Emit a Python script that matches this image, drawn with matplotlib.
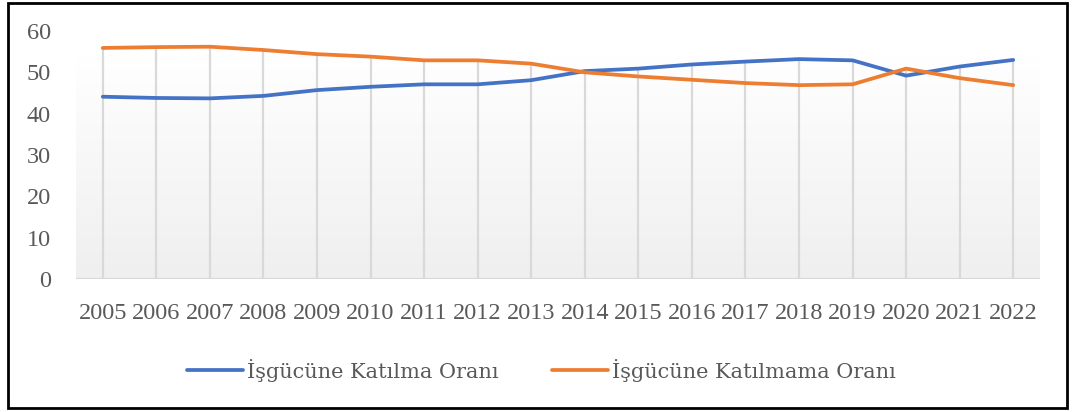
import numpy as np
import matplotlib
matplotlib.use("Agg")
import matplotlib.pyplot as plt
from matplotlib.patches import Rectangle
from matplotlib.colors import LinearSegmentedColormap

years = [str(y) for y in range(2005, 2023)]
katilma = [44.1, 43.8, 43.7, 44.3, 45.7, 46.5, 47.1, 47.1, 48.1, 50.3,
           50.9, 51.9, 52.6, 53.2, 52.9, 49.2, 51.4, 53.0]
katilmama = [55.9, 56.1, 56.2, 55.4, 54.4, 53.8, 52.9, 52.9, 52.1, 50.0,
             49.0, 48.2, 47.4, 46.9, 47.1, 50.9, 48.6, 46.9]
labels = ["İşgücüne Katılma Oranı", "İşgücüne Katılmama Oranı"]

plt.rcParams['font.family'] = ['Liberation Serif', 'DejaVu Serif']
txt = '#595959'

fig = plt.figure(figsize=(10.73, 4.12), dpi=100)
ax = fig.add_axes([76/1073, (412-279)/412, (1040-76)/1073, (279-31)/412])

x = np.arange(len(years))

# gradient fill of the plot area
cmap = LinearSegmentedColormap.from_list('g', ['#efefef', '#ffffff'])
grad = np.linspace(0, 1, 256).reshape(-1, 1)
ax.imshow(grad, cmap=cmap, origin='lower', aspect='auto',
          extent=(-0.5, len(years) - 0.5, 0, 54), zorder=0)

# drop lines
tops = np.maximum(katilma, katilmama)
ax.vlines(x, 0, tops, color='#d9d9d9', lw=1.6, zorder=1)
ax.axhline(0, color='#d9d9d9', lw=1.6, zorder=1)

ax.plot(x, katilma, color='#4472C4', lw=2.7, solid_capstyle='round', label=labels[0], zorder=3)
ax.plot(x, katilmama, color='#ED7D31', lw=2.7, solid_capstyle='round', label=labels[1], zorder=3)

ax.set_xlim(-0.5, len(years) - 0.5)
ax.set_ylim(0, 60)
ax.set_yticks(range(0, 61, 10))
ax.set_xticks(x)
ax.set_xticklabels(years)
ax.tick_params(axis='both', length=0, labelsize=17.5, colors=txt)
ax.tick_params(axis='y', pad=18)
ax.tick_params(axis='x', pad=17)
for s in ax.spines.values():
    s.set_visible(False)

fig.legend(loc='center', bbox_to_anchor=(0.5 + 5/1073, (412-370)/412), ncol=2, frameon=False,
           prop={'family': ['DejaVu Serif'], 'size': 15}, labelcolor=txt,
           handlelength=2.7, handletextpad=0.2, columnspacing=2.55)

# outer border
fig.patches.append(Rectangle((8/1073, 4/412), (1067-8)/1073, (409-4)/412, transform=fig.transFigure,
                             fill=False, edgecolor='black', lw=2))

fig.savefig('out.png', dpi=100)
